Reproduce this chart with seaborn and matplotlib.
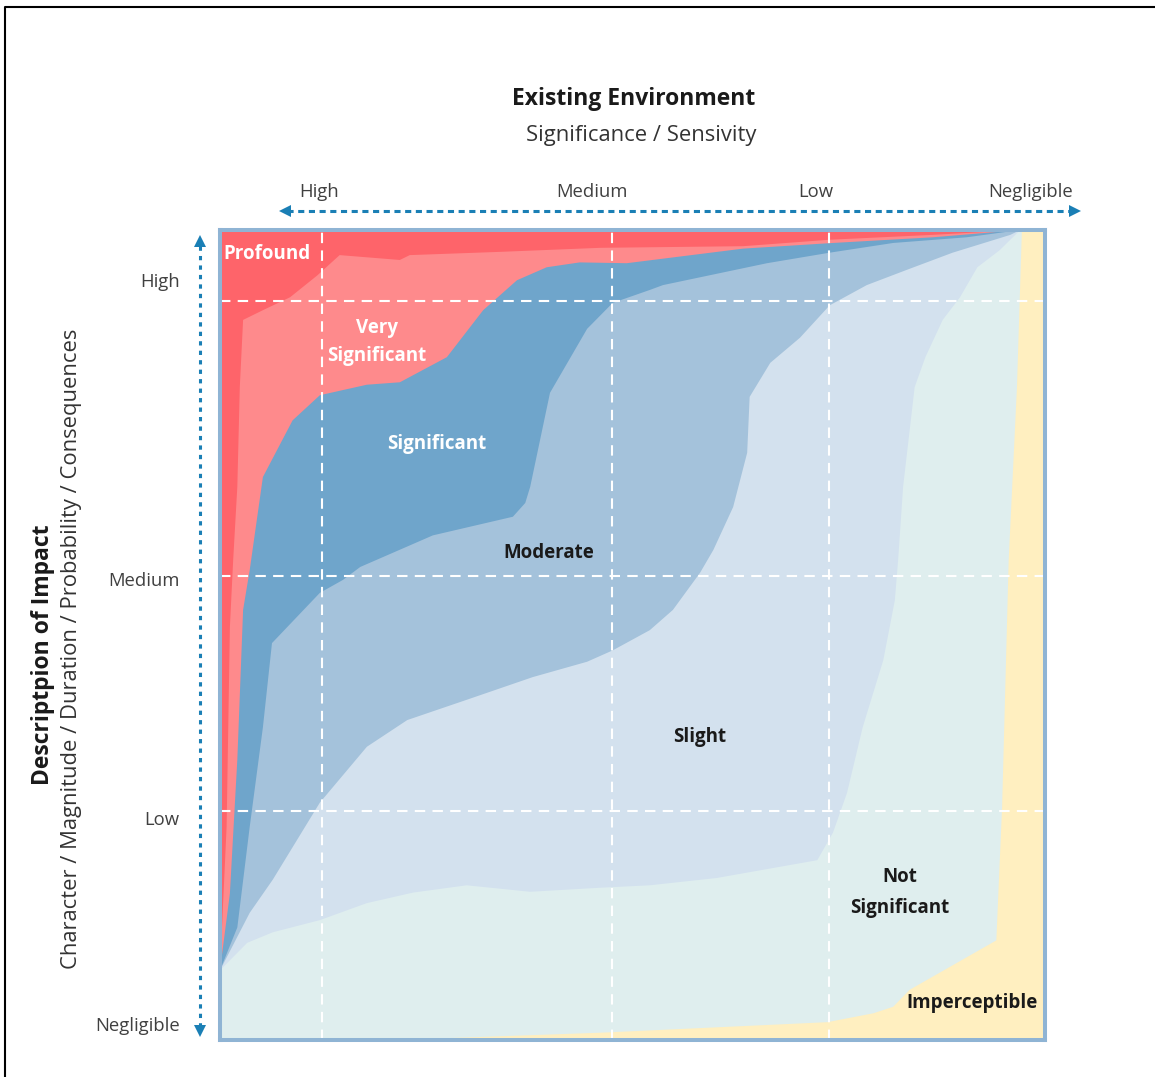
import matplotlib.pyplot as plt
import seaborn as sns

sns.set_theme(style="white")
plt.rcParams['font.family'] = ['Open Sans', 'DejaVu Sans']

# --- niveles de los ejes (escala 0-100) ---
x_levels = ["High", "Medium", "Low", "Negligible"]
x_level_pos = [12.0, 45.1, 72.2, 98.2]
y_levels = ["High", "Medium", "Low", "Negligible"]
y_level_pos = [93.8, 56.9, 27.4, 2.0]
grid_x = [12.4, 47.5, 73.8]
grid_y = [91.2, 57.3, 28.3]

# --- fronteras entre zonas, de abajo-izquierda hacia arriba-derecha ---
# Not Significant | Imperceptible
notsig_x = [0, 26.7, 46.1, 73.6, 79.2, 81.6, 83.6, 94.1, 94.8, 95.6, 96.6, 97.2]
notsig_y = [0, 0.2, 0.9, 2.2, 3.3, 4.1, 6.2, 12.3, 28.8, 59.3, 80.6, 100]
# Slight | Not Significant
slight_x = [0, 3.3, 6.4, 12.1, 17.8, 23.4, 29.9, 37.6, 46.1, 52.1, 60.2, 72.4, 74.3,
            76.0, 77.9, 80.4, 81.8, 82.2, 82.8, 84.2, 85.5, 87.6, 89.7, 91.8, 94.5, 97.0]
slight_y = [8.6, 12.0, 13.3, 14.8, 16.9, 18.2, 19.1, 18.3, 18.8, 19.1, 20.0, 22.2, 25.6,
            30.5, 38.6, 46.9, 54.3, 59.3, 68.3, 80.6, 84.3, 88.9, 91.7, 95.4, 97.5, 100]
# Moderate | Slight
moderate_x = [0, 3.6, 6.4, 12.1, 17.8, 22.7, 29.9, 37.9, 44.5, 47.6, 52.1, 54.9, 58.2,
              59.8, 62.2, 63.9, 64.2, 66.7, 70.3, 73.9, 78.4, 83.3, 88.8, 95.8, 97.0]
moderate_y = [8.6, 15.7, 19.8, 29.3, 36.2, 39.5, 42.0, 44.8, 46.7, 48.1, 50.6, 53.1, 57.7,
              60.5, 65.8, 72.5, 79.4, 83.6, 86.7, 90.7, 93.2, 95.1, 97.2, 99.4, 100]
# Significant | Moderate
significant_x = [0, 2.1, 3.6, 5.2, 6.3, 12.1, 14.9, 17.0, 25.8, 35.5, 37.0, 37.6, 40.0,
                 44.5, 47.6, 52.1, 53.7, 66.3, 73.9, 81.6, 90.5, 97.0]
significant_y = [8.6, 13.9, 26.3, 38.6, 49.0, 55.2, 56.8, 58.4, 62.3, 64.6, 66.3, 68.3, 79.9,
                 87.8, 91.0, 92.6, 93.2, 95.9, 97.2, 98.4, 99.1, 100]
# Very Significant | Significant
verysig_x = [0, 1.2, 2.1, 2.8, 3.6, 5.2, 8.8, 12.1, 17.8, 21.8, 27.5, 31.9, 36.0, 39.6,
             43.6, 49.3, 63.4, 74.3, 86.4, 97.0]
verysig_y = [8.6, 18.1, 34.6, 53.1, 58.0, 69.5, 76.5, 79.6, 80.9, 81.2, 84.3, 90.1, 93.8, 95.4,
             96.0, 95.9, 97.7, 98.4, 99.1, 100]
# Profound | Very Significant
profound_x = [0, 0.8, 1.2, 1.6, 2.1, 2.4, 2.8, 5.2, 8.5, 11.8, 14.5, 21.8, 23.0, 33.9,
              46.1, 63.4, 73.9, 86.4, 97.0]
profound_y = [8.6, 26.3, 51.0, 59.3, 68.3, 80.6, 88.9, 90.1, 91.7, 94.4, 96.9, 96.3, 96.9, 97.3,
              97.8, 98.0, 98.8, 99.4, 100]

zonas = [
    ("Not Significant", notsig_x, notsig_y, "#dfeeee"),
    ("Slight", slight_x, slight_y, "#d3e1ee"),
    ("Moderate", moderate_x, moderate_y, "#a4c2db"),
    ("Significant", significant_x, significant_y, "#6fa5cb"),
    ("Very Significant", verysig_x, verysig_y, "#fe8a8c"),
    ("Profound", profound_x, profound_y, "#fe646a"),
]

# etiquetas de zonas: texto, x, y, color, alineacion, interlineado
etiquetas = [
    ("Profound", 0.4, 97.0, "white", "left", 1.2),
    ("Very\nSignificant", 19.0, 86.2, "white", "center", 1.55),
    ("Significant", 26.3, 73.6, "white", "center", 1.2),
    ("Moderate", 39.8, 60.1, "#1a1a1a", "center", 1.2),
    ("Slight", 58.1, 37.4, "#1a1a1a", "center", 1.2),
    ("Not\nSignificant", 82.4, 18.2, "#1a1a1a", "center", 1.7),
    ("Imperceptible", 91.2, 4.6, "#1a1a1a", "center", 1.2),
]

W, H = 1155, 1077
fig = plt.figure(figsize=(W / 100, H / 100), dpi=100)

# capa de fondo en pixeles para flechas y titulos
over = fig.add_axes([0, 0, 1, 1])
over.set_xlim(0, W)
over.set_ylim(H, 0)
over.axis("off")

ax = fig.add_axes([220 / W, (H - 1040) / H, 825 / W, 810 / H])
ax.set_xlim(0, 100)
ax.set_ylim(0, 100)
ax.set_facecolor("#ffefc0")  # Imperceptible

for nombre, xs, ys, col in zonas:
    ax.fill(xs + [0], ys + [100], color=col, lw=0, zorder=1)

for gx in grid_x:
    ax.axvline(gx, color="white", lw=1.5, ls=(0, (5, 3.5)), zorder=2)
for gy in grid_y:
    ax.axhline(gy, color="white", lw=1.5, ls=(0, (5, 3.5)), zorder=2)

for txt, tx, ty, col, ha, ls in etiquetas:
    ax.text(tx, ty, txt, color=col, ha=ha, va="center", fontsize=13.5,
            fontweight="bold", linespacing=ls, zorder=3)

for s in ax.spines.values():
    s.set_visible(True)
    s.set_color("#8fb4d4")
    s.set_linewidth(2.9)

ax.xaxis.tick_top()
ax.set_xticks(x_level_pos, x_levels)
ax.set_yticks(y_level_pos, y_levels)
ax.tick_params(axis="x", length=0, pad=21, labelsize=13.3, labelcolor="#404040")
ax.tick_params(axis="y", length=0, pad=29, labelsize=13.3, labelcolor="#404040")
ax.grid(False)

# flechas punteadas
azul = "#1a7fb5"
over.plot([287, 1073], [211, 211], color=azul, lw=2.2, ls=(0, (2, 1.5)))
over.plot([285], [211], marker="<", ms=9, color=azul, mew=0)
over.plot([1075], [211], marker=">", ms=9, color=azul, mew=0)
over.plot([200, 200], [246, 1027], color=azul, lw=2.2, ls=(0, (1.4, 1.7)))
over.plot([200], [241], marker="^", ms=9, color=azul, mew=0)
over.plot([200], [1031], marker="v", ms=9, color=azul, mew=0)

# titulos
over.text(634, 99, "Existing Environment", ha="center", va="center",
          fontsize=16.5, fontweight="bold", color="#1a1a1a")
over.text(641, 136, "Significance / Sensivity", ha="center", va="center",
          fontsize=15.8, color="#333333")
over.text(43, 655, "Descriptpion of Impact", ha="center", va="center", rotation=90,
          fontsize=16.5, fontweight="bold", color="#1a1a1a")
over.text(72, 649, "Character / Magnitude / Duration / Probability / Consequences",
          ha="center", va="center", rotation=90, fontsize=15.8, color="#333333")

# marco de la imagen
over.plot([5, 5, W], [H, 7, 7], color="black", lw=1.5)

fig.savefig("out.png", dpi=100)
